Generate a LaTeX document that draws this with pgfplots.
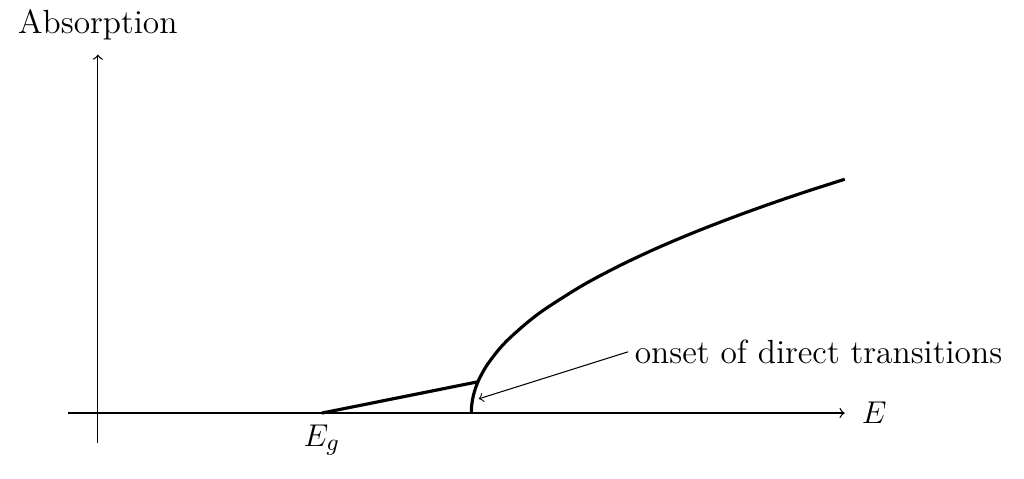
\documentclass[border=0pt]{standalone}
\usepackage{pgfplots}
\pgfplotsset{compat=1.18}
\begin{document}
\begin{tikzpicture}
\begin{axis}[
  x=1cm, y=1cm,
  axis lines=middle,
  axis line style={->, line width=0.5pt},
  xmin=-0.4, xmax=10, ymin=-0.4, ymax=4.8,
  ticks=none,
  clip=false,
  xlabel={$E$}, ylabel={Absorption},
  every axis x label/.style={at={(axis cs:10,0)}, anchor=west, xshift=3pt},
  every axis y label/.style={at={(axis cs:0,4.8)}, anchor=south, yshift=2pt},
  label style={font=\fontsize{12.75}{15}\selectfont},
]
\path (axis cs:-1.31,-0.88) rectangle (axis cs:12.4,5.53);
\addplot[very thick, black] coordinates {(3,0) (5.088,0.418)};
\addplot[very thick, black, smooth] coordinates {
(5,0) (5.005,0.099) (5.02,0.198) (5.05,0.313) (5.1,0.443) (5.2,0.626) (5.35,0.828) (5.5,0.990) (5.75,1.212) (6,1.4) (6.5,1.715) (7,1.980) (7.5,2.214) (8,2.425) (8.5,2.619) (9,2.8) (9.5,2.970) (10,3.130)};
\node[font=\fontsize{12.75}{15}\selectfont, below] at (axis cs:3,-0.03) {$E_g$};
\draw[<-] (axis cs:5.1,0.19) -- (axis cs:7.1,0.82) node[font=\fontsize{12.75}{15}\selectfont, anchor=west, xshift=-1pt] {onset of direct transitions};
\end{axis}
\end{tikzpicture}
\end{document}
